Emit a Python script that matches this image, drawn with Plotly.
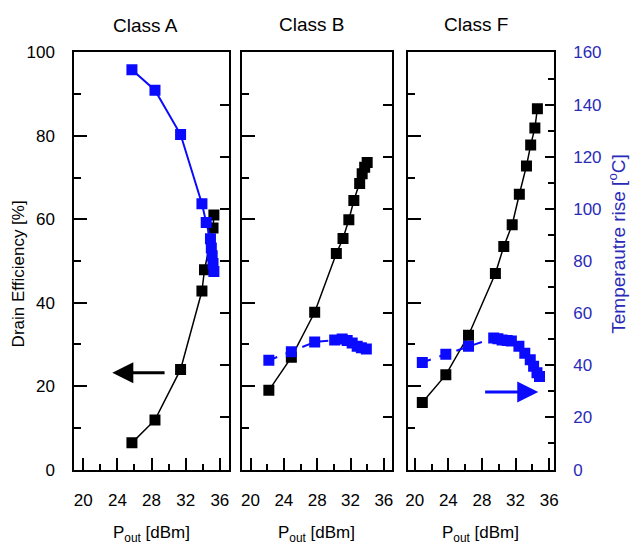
import plotly.graph_objects as go

# ---------------- data ----------------
panel_titles = ["Class A", "Class B", "Class F"]

A_pout_eff = [25.7, 28.4, 31.4, 33.9, 34.2, 35.2, 35.3]
A_eff = [6.4, 11.9, 24.0, 42.8, 47.9, 57.9, 61.0]
A_pout_temp = [25.7, 28.4, 31.4, 33.9, 34.4, 34.9, 35.0, 35.1, 35.2, 35.3]
A_temp = [153.4, 145.5, 128.5, 102.0, 94.8, 88.5, 85.0, 82.0, 79.0, 76.0]

B_pout_eff = [22.2, 24.9, 27.7, 30.3, 31.1, 31.8, 32.4, 33.1, 33.4, 33.7, 34.0]
B_eff = [19.0, 26.9, 37.7, 51.8, 55.4, 59.9, 64.5, 68.6, 70.9, 72.5, 73.6]
B_pout_temp = [22.2, 24.9, 27.7, 30.1, 31.0, 31.6, 32.2, 32.8, 33.3, 33.9]
B_temp = [41.9, 45.2, 48.9, 49.7, 50.1, 49.5, 48.5, 47.3, 46.7, 46.2]

F_pout_eff = [20.9, 23.7, 26.4, 29.6, 30.6, 31.6, 32.45, 33.3, 33.8, 34.3, 34.6]
F_eff = [16.1, 22.7, 32.2, 47.0, 53.5, 58.7, 66.0, 72.8, 77.8, 81.9, 86.5]
F_pout_temp = [20.9, 23.7, 26.4, 29.4, 29.9, 30.4, 31.0, 31.5, 32.4, 33.1, 33.75, 34.15, 34.55, 34.85]
F_temp = [41.1, 44.2, 47.3, 50.5, 50.2, 49.7, 49.5, 49.3, 47.3, 44.6, 42.1, 39.6, 37.1, 35.7]

x_tick_vals = [20, 24, 28, 32, 36]
eff_tick_vals = [0, 20, 40, 60, 80, 100]
temp_tick_vals = [0, 20, 40, 60, 80, 100, 120, 140, 160]

# arrows: (tail x, head x, y) in panel data coords (efficiency axis)
arrow_A = (29.7, 23.4, 23.2)
arrow_F = (28.2, 34.7, 18.6)

# ---------------- style ----------------
W, H = 631, 551
FONT = "Liberation Sans, Arial, sans-serif"
BLACK = "#000000"
BLUE = "#0a0aff"
BLUE_TXT = "#2a2ab8"

panel_px = [(73, 229), (242.5, 393.5), (409.5, 557.5)]
x_ranges = [[18.95, 37.05], [19.0, 36.95], [19.15, 36.6]]
y_dom = [1 - 477 / H, 1 - 45 / H]

series = [
    (A_pout_eff, A_eff, A_pout_temp, A_temp, "solid"),
    (B_pout_eff, B_eff, B_pout_temp, B_temp, "dash"),
    (F_pout_eff, F_eff, F_pout_temp, F_temp, "dash"),
]

fig = go.Figure()
layout = dict(
    width=W, height=H,
    margin=dict(l=0, r=0, t=0, b=0),
    paper_bgcolor="white", plot_bgcolor="white",
    showlegend=False,
    font=dict(family=FONT, size=16, color=BLACK),
)

for i in range(3):
    n = i + 1
    xs = "" if n == 1 else str(n)
    ya = "" if n == 1 else str(n)
    yb = str(n + 3)
    px0, px1 = panel_px[i]
    layout["xaxis" + xs] = dict(
        domain=[px0 / W, px1 / W], range=x_ranges[i], anchor="y" + ya,
        tickmode="array", tickvals=x_tick_vals, ticks="inside", ticklen=12,
        tickwidth=1.5, tickcolor=BLACK,
        minor=dict(ticks="inside", dtick=2, tick0=20, ticklen=6, tickwidth=1.5, tickcolor=BLACK),
        showline=True, linecolor=BLACK, linewidth=2, mirror=True,
        showgrid=False, zeroline=False, ticklabelstandoff=14,
        tickfont=dict(size=17, color=BLACK),
    )
    layout["yaxis" + ya] = dict(
        domain=y_dom, range=[0, 100], anchor="x" + xs,
        tickmode="array", tickvals=eff_tick_vals, ticks="inside", ticklen=13,
        tickwidth=1.5, tickcolor=BLACK,
        minor=dict(ticks="inside", dtick=10, tick0=0, ticklen=7, tickwidth=1.5, tickcolor=BLACK),
        showline=True, linecolor=BLACK, linewidth=2, mirror=True,
        showgrid=False, zeroline=False, showticklabels=(n == 1),
        ticklabelstandoff=14, tickfont=dict(size=17, color=BLACK),
    )
    right = dict(
        overlaying="y" + ya, side="right", anchor="x" + xs, range=[0, 160],
        tickmode="array", tickvals=temp_tick_vals, ticks="inside", ticklen=9,
        tickwidth=1.5, tickcolor=BLACK, showline=False,
        showgrid=False, zeroline=False, showticklabels=(n == 3),
        ticklabelstandoff=18, tickfont=dict(size=17, color=BLUE_TXT),
    )
    if n == 3:
        right["minor"] = dict(ticks="inside", dtick=10, tick0=0, ticklen=6, tickwidth=1.5, tickcolor=BLACK)
    layout["yaxis" + yb] = right

    xe, ye, xt, yt, dash = series[i]
    fig.add_trace(go.Scatter(
        x=xe, y=ye, mode="lines+markers", xaxis="x" + xs, yaxis="y" + ya,
        line=dict(color=BLACK, width=1.5),
        marker=dict(symbol="square", size=11, color=BLACK),
    ))
    fig.add_trace(go.Scatter(
        x=xt, y=yt, mode="lines+markers", xaxis="x" + xs, yaxis="y" + yb,
        line=dict(color=BLUE, width=2, dash=dash),
        marker=dict(symbol="square", size=11, color=BLUE),
    ))

annotations = []
title_px = [(145, 17), (312, 16), (479, 16)]
for i, t in enumerate(panel_titles):
    cx, cy = title_px[i]
    annotations.append(dict(text=t, x=cx / W, y=1 - cy / H, xref="paper", yref="paper",
                            showarrow=False, xanchor="center", yanchor="middle",
                            font=dict(size=19, color=BLACK, family=FONT)))
    px0, px1 = panel_px[i]
    annotations.append(dict(text="P<sub>out</sub> [dBm]", x=(px0 + px1) / 2 / W, y=1 - 544 / H,
                            xref="paper", yref="paper", showarrow=False,
                            xanchor="center", yanchor="middle",
                            font=dict(size=17, color=BLACK, family=FONT)))

annotations.append(dict(text="Drain Efficiency [%]", x=17 / W, y=1 - 274 / H, xref="paper", yref="paper",
                        showarrow=False, textangle=-90, xanchor="center", yanchor="middle",
                        font=dict(size=17, color=BLACK, family=FONT)))
annotations.append(dict(text="Temperautre rise [<sup>o</sup>C]", x=621 / W, y=1 - 243 / H,
                        xref="paper", yref="paper",
                        showarrow=False, textangle=-90, xanchor="center", yanchor="middle",
                        font=dict(size=19, color=BLUE_TXT, family=FONT)))

annotations.append(dict(x=arrow_A[1], y=arrow_A[2], ax=arrow_A[0], ay=arrow_A[2],
                        xref="x", yref="y", axref="x", ayref="y", text="",
                        showarrow=True, arrowhead=2, arrowsize=1.4, arrowwidth=3, arrowcolor=BLACK))
annotations.append(dict(x=arrow_F[1], y=arrow_F[2], ax=arrow_F[0], ay=arrow_F[2],
                        xref="x3", yref="y3", axref="x3", ayref="y3", text="",
                        showarrow=True, arrowhead=2, arrowsize=1.4, arrowwidth=3, arrowcolor=BLUE))

layout["annotations"] = annotations
fig.update_layout(**layout)
fig.write_html("out.html")
